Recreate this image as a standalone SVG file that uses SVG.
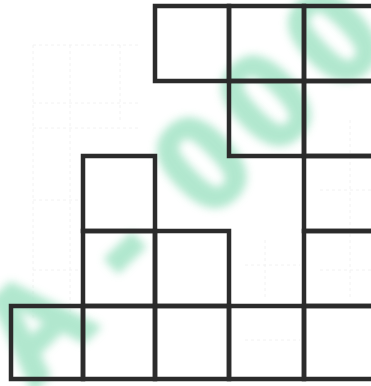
<svg xmlns="http://www.w3.org/2000/svg" width="371" height="386" viewBox="0 0 371 386">
  <defs>
    <filter id="soft" x="-20%" y="-20%" width="140%" height="140%">
      <feGaussianBlur stdDeviation="4.5"/>
    </filter>
    <style>
      .cell { fill: none; stroke: #2b2b2b; stroke-width: 4.5; stroke-linejoin: miter; }
      .faint { stroke: #f2f2f2; stroke-width: 1; stroke-dasharray: 3 3; fill: none; }
      .wm { font-family: "Liberation Sans", Arial, sans-serif; font-weight: bold; font-size: 132px; fill: #a9e5c9; stroke: #a9e5c9; stroke-width: 6; stroke-linejoin: round; }
    </style>
  </defs>
  <rect width="371" height="386" fill="#ffffff"/>

  <g id="faint-grid">
    <path class="faint" d="M33 45H140 M33 103H140 M33 128H140 M33 200H80 M33 270H80 M245 265H300 M245 340H300 M320 190H371 M320 270H371 M33 45V320 M70 45V320 M120 45V120 M350 120V300 M265 240V300"/>
  </g>

  <g id="watermark" filter="url(#soft)" opacity="0.9">
    <g transform="translate(122,238) rotate(-44)">
      <text class="wm" x="-124 -8 110 199 292" y="47 47 47 47 47" text-anchor="middle">A-000</text>
    </g>
  </g>

  <g id="grid">
    <g id="row1">
      <rect class="cell" x="155" y="6" width="74" height="75"/>
      <rect class="cell" x="229" y="6" width="75" height="75"/>
      <rect class="cell" x="304" y="6" width="75" height="75"/>
    </g>
    <g id="row2">
      <rect class="cell" x="229" y="81" width="75" height="75"/>
      <rect class="cell" x="304" y="81" width="75" height="75"/>
    </g>
    <g id="row3">
      <rect class="cell" x="83" y="156" width="72" height="75"/>
      <rect class="cell" x="304" y="156" width="75" height="75"/>
    </g>
    <g id="row4">
      <rect class="cell" x="83" y="231" width="72" height="75"/>
      <rect class="cell" x="155" y="231" width="74" height="75"/>
      <rect class="cell" x="304" y="231" width="75" height="75"/>
    </g>
    <g id="row5">
      <rect class="cell" x="11" y="306" width="72" height="73"/>
      <rect class="cell" x="83" y="306" width="72" height="73"/>
      <rect class="cell" x="155" y="306" width="74" height="73"/>
      <rect class="cell" x="229" y="306" width="75" height="73"/>
      <rect class="cell" x="304" y="306" width="75" height="73"/>
    </g>
  </g>
</svg>
